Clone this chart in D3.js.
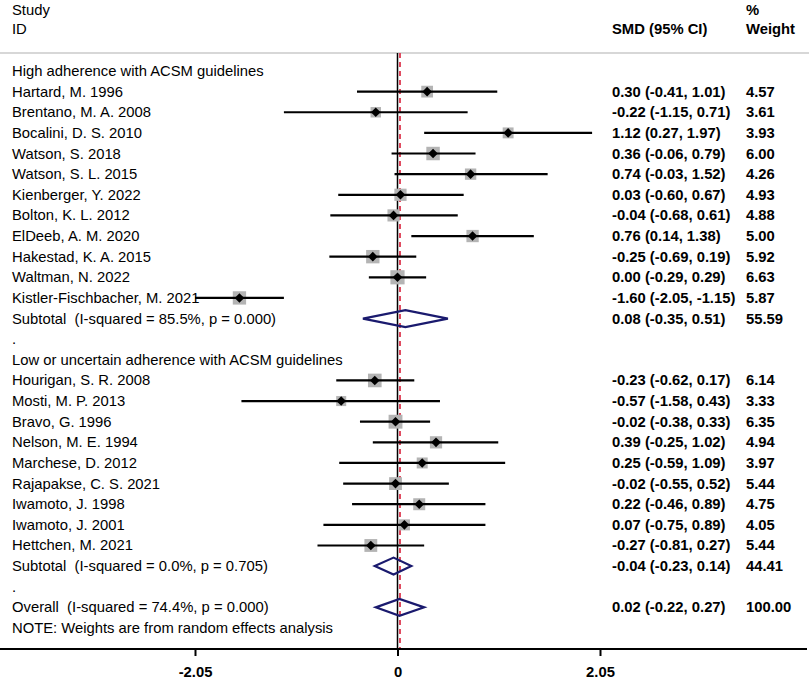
<!DOCTYPE html>
<html><head><meta charset="utf-8">
<script src="https://cdn.jsdelivr.net/npm/d3@7"></script>
<style>body{margin:0;background:#fff;} svg{display:block;} text{font-family:"Liberation Sans",Arial,sans-serif;white-space:pre;}</style>
</head><body>
<svg id="c" width="809" height="683"></svg>
<script>
const labels = ["High adherence with ACSM guidelines","Hartard, M. 1996","Brentano, M. A. 2008","Bocalini, D. S. 2010","Watson, S. 2018","Watson, S. L. 2015","Kienberger, Y. 2022","Bolton, K. L. 2012","ElDeeb, A. M. 2020","Hakestad, K. A. 2015","Waltman, N. 2022","Kistler-Fischbacher, M. 2021","Subtotal  (I-squared = 85.5%, p = 0.000)",".","Low or uncertain adherence with ACSM guidelines","Hourigan, S. R. 2008","Mosti, M. P. 2013","Bravo, G. 1996","Nelson, M. E. 1994","Marchese, D. 2012","Rajapakse, C. S. 2021","Iwamoto, J. 1998","Iwamoto, J. 2001","Hettchen, M. 2021","Subtotal  (I-squared = 0.0%, p = 0.705)",".","Overall  (I-squared = 74.4%, p = 0.000)","NOTE: Weights are from random effects analysis"];
const types = ["head","study","study","study","study","study","study","study","study","study","study","study","pooled","dot","head","study","study","study","study","study","study","study","study","study","pooled","dot","pooled","note"];
const smd = [null,0.30,-0.22,1.12,0.36,0.74,0.03,-0.04,0.76,-0.25,0.00,-1.60,0.08,null,null,-0.23,-0.57,-0.02,0.39,0.25,-0.02,0.22,0.07,-0.27,-0.04,null,0.02,null];
const lo = [null,-0.41,-1.15,0.27,-0.06,-0.03,-0.60,-0.68,0.14,-0.69,-0.29,-2.05,-0.35,null,null,-0.62,-1.58,-0.38,-0.25,-0.59,-0.55,-0.46,-0.75,-0.81,-0.23,null,-0.22,null];
const hi = [null,1.01,0.71,1.97,0.79,1.52,0.67,0.61,1.38,0.19,0.29,-1.15,0.51,null,null,0.17,0.43,0.33,1.02,1.09,0.52,0.89,0.89,0.27,0.14,null,0.27,null];
const weight = [null,4.57,3.61,3.93,6.00,4.26,4.93,4.88,5.00,5.92,6.63,5.87,55.59,null,null,6.14,3.33,6.35,4.94,3.97,5.44,4.75,4.05,5.44,44.41,null,100.00,null];
const tickVals = [-2.05, 0, 2.05];
const overallSMD = 0.02;

const svg = d3.select("#c");
const x = d3.scaleLinear().domain([-2.05, 2.05]).range([195, 600]);
const y = d3.scaleLinear().domain([0, 27]).range([71, 628]);
const fmt = v => v.toFixed(2);
const rows = labels.map((l,i)=>({i,l,t:types[i],e:smd[i],lo:lo[i],hi:hi[i],w:weight[i]}));
const topY = 53, axisY = 649, fs = 14.8;

// header
const hdr = svg.append("g").attr("font-size",fs).attr("fill","#000");
hdr.append("text").attr("x",12).attr("y",15).text("Study");
hdr.append("text").attr("x",12).attr("y",34).text("ID");
hdr.append("text").attr("x",612).attr("y",34).attr("font-weight","bold").text("SMD (95% CI)");
hdr.append("text").attr("x",746).attr("y",15).attr("font-weight","bold").text("%");
hdr.append("text").attr("x",746).attr("y",34).attr("font-weight","bold").text("Weight");
svg.append("line").attr("x1",0).attr("x2",809).attr("y1",topY).attr("y2",topY).attr("stroke","#b0b0b0").attr("stroke-width",1.2);

// reference lines
svg.append("line").attr("x1",x(0)).attr("x2",x(0)).attr("y1",topY).attr("y2",axisY).attr("stroke","#000").attr("stroke-width",1.5);
svg.append("line").attr("x1",x(overallSMD)+0.5).attr("x2",x(overallSMD)+0.5).attr("y1",topY).attr("y2",axisY)
  .attr("stroke","#e0485e").attr("stroke-width",2).attr("stroke-dasharray","5,4");

// labels
svg.append("g").selectAll("text").data(rows).join("text")
  .attr("x",12).attr("y",d=>y(d.i)+5).attr("font-size",fs).attr("fill","#000")
  .text(d=>d.l);

// estimates text
const est = rows.filter(d=>d.e!==null);
svg.append("g").selectAll("text").data(est).join("text")
  .attr("x",612).attr("y",d=>y(d.i)+5).attr("font-size",fs).attr("font-weight","bold")
  .text(d=>`${fmt(d.e)} (${fmt(d.lo)}, ${fmt(d.hi)})`);
svg.append("g").selectAll("text").data(est).join("text")
  .attr("x",746).attr("y",d=>y(d.i)+5).attr("font-size",fs).attr("font-weight","bold")
  .text(d=>fmt(d.w));

// studies
const st = rows.filter(d=>d.t==="study");
const k = 2.75;
const g = svg.append("g");
g.selectAll("rect.w").data(st).join("rect").attr("class","w")
  .attr("x",d=>x(d.e)-k*Math.sqrt(d.w)).attr("y",d=>y(d.i)-k*Math.sqrt(d.w))
  .attr("width",d=>2*k*Math.sqrt(d.w)).attr("height",d=>2*k*Math.sqrt(d.w))
  .attr("fill","#b4b4b4");
g.selectAll("line.ci").data(st).join("line").attr("class","ci")
  .attr("x1",d=>x(d.lo)).attr("x2",d=>x(d.hi)).attr("y1",d=>y(d.i)).attr("y2",d=>y(d.i))
  .attr("stroke","#000").attr("stroke-width",2.2);
g.selectAll("path.pt").data(st).join("path").attr("class","pt")
  .attr("d",d=>{const cx=x(d.e),cy=y(d.i),r=4.8;return `M${cx},${cy-r}L${cx+r},${cy}L${cx},${cy+r}L${cx-r},${cy}Z`;})
  .attr("fill","#000");

// pooled diamonds
const pl = rows.filter(d=>d.t==="pooled");
svg.append("g").selectAll("path").data(pl).join("path")
  .attr("d",d=>{const cy=y(d.i),h=8.5;return `M${x(d.lo)},${cy}L${x(d.e)},${cy-h}L${x(d.hi)},${cy}L${x(d.e)},${cy+h}Z`;})
  .attr("fill","none").attr("stroke","#1a1a6e").attr("stroke-width",2.2).attr("stroke-linejoin","miter");

// axis
svg.append("line").attr("x1",0).attr("x2",807).attr("y1",axisY).attr("y2",axisY).attr("stroke","#000").attr("stroke-width",2);
const ax = svg.append("g").attr("transform",`translate(0,${axisY})`)
  .call(d3.axisBottom(x).tickValues(tickVals).tickSize(7).tickFormat(d=>d===0?"0":String(d)));
ax.select(".domain").remove();
ax.selectAll(".tick line").attr("stroke","#000").attr("stroke-width",2);
ax.selectAll(".tick text").attr("font-size",fs).attr("font-weight","bold").attr("fill","#000")
  .attr("font-family","'Liberation Sans',Arial,sans-serif").attr("y",28).attr("dy",0);
</script>
</body></html>
